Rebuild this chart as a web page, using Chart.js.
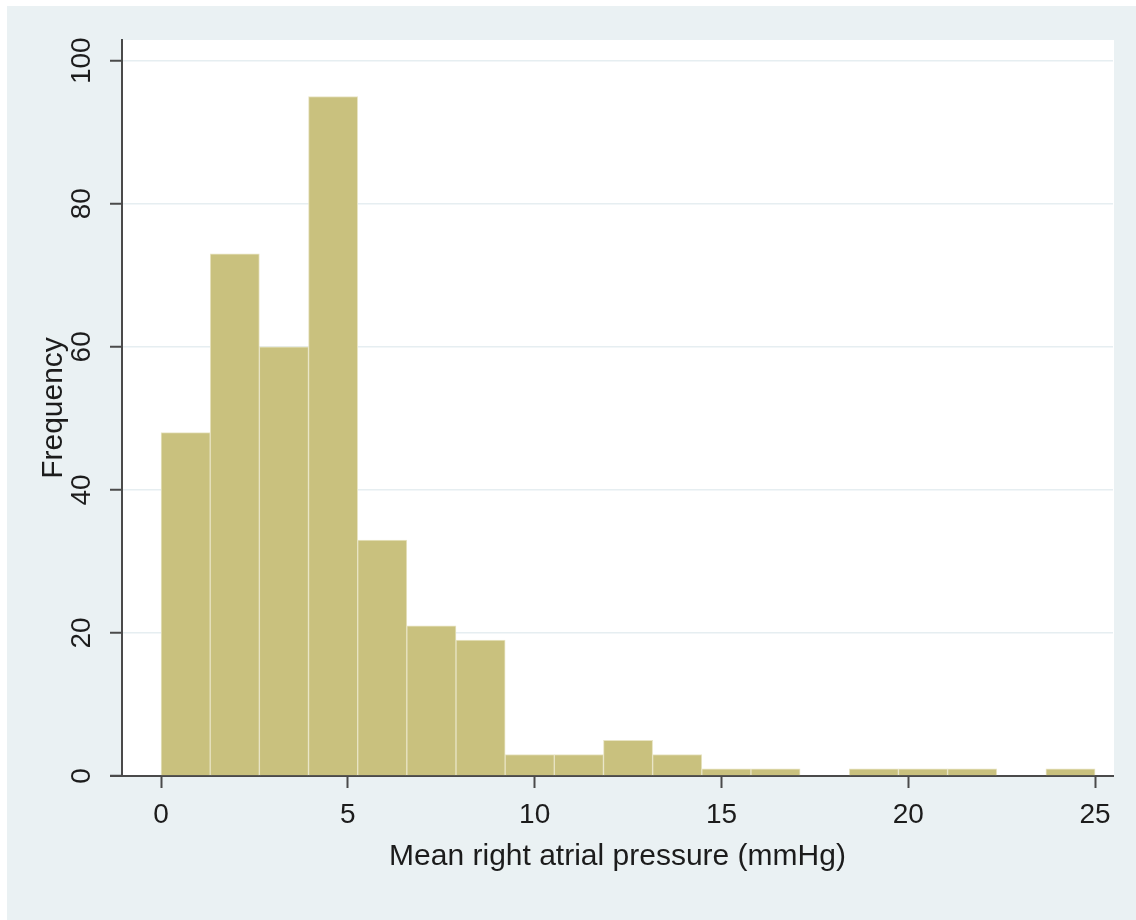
<!DOCTYPE html>
<html>
<head>
<meta charset="utf-8">
<title>Mean right atrial pressure histogram</title>
<script src="https://cdn.jsdelivr.net/npm/chart.js@4.4.1/dist/chart.umd.min.js"></script>
<style>
  html, body { margin: 0; padding: 0; background: #ffffff; }
  #wrap { width: 1136px; height: 920px; position: relative; }
</style>
</head>
<body>
<div id="wrap"><canvas id="histo"></canvas></div>
<script>
// histogram: 19 equal bins between 0 and 25 mmHg
const binLow = 0;
const binHigh = 25;
const binCounts = [48, 73, 60, 95, 33, 21, 19, 3, 3, 5, 3, 1, 1, 0, 1, 1, 1, 0, 1];
const xTicks = [0, 5, 10, 15, 20, 25];
const yTicks = [0, 20, 40, 60, 80, 100];

const binWidth = (binHigh - binLow) / binCounts.length;
const points = binCounts.map((c, i) => ({ x: binLow + (i + 0.5) * binWidth, y: c }));

const outerBg = '#eaf1f3';
const axisColor = '#4a4a4a';
const textColor = '#1c1c1c';

// stata-ish backgrounds + the x axis line poking out to the left
const backdrop = {
    id: 'backdrop',
    beforeDraw(chart) {
        const ctx = chart.ctx;
        const a = chart.chartArea;
        ctx.save();
        ctx.fillStyle = '#ffffff';
        ctx.fillRect(0, 0, chart.width, chart.height);
        ctx.fillStyle = outerBg;
        ctx.fillRect(7, 6, chart.width - 7, chart.height - 6);
        ctx.fillStyle = '#ffffff';
        ctx.fillRect(a.left, a.top, a.right - a.left + 1, a.bottom - a.top);
        ctx.restore();
    },
    afterDraw(chart) {
        const ctx = chart.ctx;
        const a = chart.chartArea;
        ctx.save();
        ctx.strokeStyle = axisColor;
        ctx.lineWidth = 2;
        ctx.beginPath();
        ctx.moveTo(a.left - 12, a.bottom);
        ctx.lineTo(a.left, a.bottom);
        ctx.stroke();
        ctx.restore();
    }
};

new Chart(document.getElementById('histo'), {
    type: 'bar',
    data: {
        datasets: [{
            label: 'Frequency',
            data: points,
            backgroundColor: '#c9c17e',
            borderColor: '#e8e4c4',
            borderWidth: 1,
            barPercentage: 1,
            categoryPercentage: 1
        }]
    },
    options: {
        responsive: true,
        maintainAspectRatio: false,
        animation: false,
        layout: { padding: { left: 0, top: 40, right: 23, bottom: 0 } },
        plugins: {
            legend: { display: false },
            tooltip: { enabled: false }
        },
        scales: {
            x: {
                type: 'linear',
                offset: false,
                min: -1.045,
                max: 25.48,
                afterFit: (s) => { s.height = 144; },
                afterBuildTicks: (s) => { s.ticks = xTicks.map(v => ({ value: v })); },
                border: { display: true, color: axisColor, width: 2 },
                grid: { offset: false, drawOnChartArea: false, tickColor: axisColor, tickLength: 12, tickWidth: 2 },
                ticks: {
                    padding: 10,
                    color: textColor,
                    font: { family: 'Liberation Sans, Arial, sans-serif', size: 28 },
                    maxRotation: 0
                },
                title: {
                    display: true,
                    text: 'Mean right atrial pressure (mmHg)',
                    color: textColor,
                    font: { family: 'Liberation Sans, Arial, sans-serif', size: 30 },
                    padding: { top: 0, bottom: 45 }
                }
            },
            y: {
                min: 0,
                max: 102.9,
                afterFit: (s) => { s.width = 122; },
                afterBuildTicks: (s) => { s.ticks = yTicks.map(v => ({ value: v })); },
                border: { display: true, color: axisColor, width: 2 },
                grid: { color: '#e6eef1', lineWidth: 1.5, tickColor: axisColor, tickLength: 12, tickWidth: 2 },
                ticks: {
                    padding: 4,
                    crossAlign: 'center',
                    minRotation: 90,
                    maxRotation: 90,
                    color: textColor,
                    font: { family: 'Liberation Sans, Arial, sans-serif', size: 28 }
                },
                title: {
                    display: true,
                    text: 'Frequency',
                    color: textColor,
                    font: { family: 'Liberation Sans, Arial, sans-serif', size: 30 },
                    padding: { top: 36, bottom: 0 }
                }
            }
        }
    },
    plugins: [backdrop]
});
</script>
</body>
</html>
